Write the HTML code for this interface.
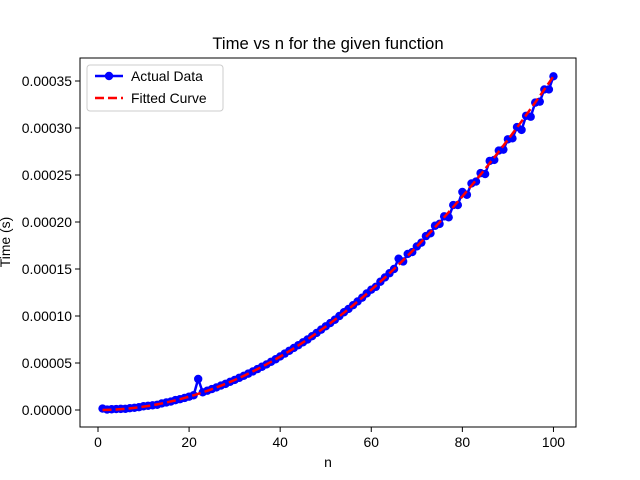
<!DOCTYPE html>
<html><head><meta charset="utf-8"><style>
html,body{margin:0;padding:0;background:#fff;}
svg{display:block;font-family:"Liberation Sans","DejaVu Sans",sans-serif;}
</style></head><body>
<svg id="chart" width="640" height="480" viewBox="0 0 640 480" xmlns="http://www.w3.org/2000/svg">
<rect width="640" height="480" fill="#fff"/>
<text x="328" y="49" text-anchor="middle" font-size="16.7">Time vs n for the given function</text>
<g id="plot"></g>
<rect x="80" y="58" width="496" height="369" fill="none" stroke="#000" stroke-width="1"/>
<g id="xt"></g><g id="yt"></g>
<text x="328" y="467" text-anchor="middle" font-size="13.9">n</text>
<text transform="translate(10,242) rotate(-90)" text-anchor="middle" font-size="13.9">Time (s)</text>
<g>
<rect x="87" y="65" width="136" height="46" rx="3" fill="#fff" fill-opacity="0.8" stroke="#ccc"/>
<line x1="95" y1="76" x2="123" y2="76" stroke="#0000ff" stroke-width="2.5"/>
<circle cx="109" cy="76" r="4.2" fill="#0000ff"/>
<text x="131" y="81" font-size="13.9">Actual Data</text>
<line x1="95" y1="98" x2="123" y2="98" stroke="#ff0000" stroke-width="2.5" stroke-dasharray="9,4"/>
<text x="131" y="103" font-size="13.9">Fitted Curve</text>
</g>
</svg>
<script>
const nValues = Array.from({length:100},(_,i)=>i+1);
const timeMicro = [1.5,0.5,0.8,1,1.2,1.3,1.9,2.3,3,4,4.5,5,5.5,7,8,9,10.5,11.5,12.8,14.2,15.7,33,18.8,20.5,22.3,24,26,27.8,30,32,34.2,36.4,38.7,41,43.5,46,48.5,51.3,54,57,60,63,66,69,72,75,78.5,82,85.5,89,92.5,96,100,104,107.5,111.5,115.5,119.5,124,128,131,136.5,141,145.5,150,161,158,166,168,174,178,185,188,196,198,206,205,218,218,232,229,241,243,252,251,265,266,276,277,288,289,301,298,313,312,327,328,341,341,355];
const fitCoef = [3.55e-8, 0, 0];
const xTicks = [0,20,40,60,80,100];
const yTicks = [0,0.00005,0.0001,0.00015,0.0002,0.00025,0.0003,0.00035];
const yTickLabels = ["0.00000","0.00005","0.00010","0.00015","0.00020","0.00025","0.00030","0.00035"];
const NS="http://www.w3.org/2000/svg";
const X=v=>80+(v+3.95)*496/108.9;
const Y=v=>410-v*940000;
function mk(t,a,p){const e=document.createElementNS(NS,t);for(const k in a)e.setAttribute(k,a[k]);p.appendChild(e);return e;}
const plot=document.getElementById('plot'),xt=document.getElementById('xt'),yt=document.getElementById('yt');
xTicks.forEach(v=>{
  const l=mk('line',{x1:X(v),x2:X(v),y1:427,y2:432,stroke:'#000'},xt);
  
  
  const t=mk('text',{x:X(v),y:447,'text-anchor':'middle','font-size':13.9},xt);t.textContent=v;
  
  
});
yTicks.forEach((v,i)=>{
  const l=mk('line',{x1:75,x2:80,y1:Y(v),y2:Y(v),stroke:'#000'},yt);
  
  
  const t=mk('text',{x:72,y:Y(v)+5,'text-anchor':'end','font-size':13.9},yt);t.textContent=yTickLabels[i];
  
  
});
const pts=nValues.map((n,i)=>X(n)+','+Y(timeMicro[i]*1e-6)).join(' ');
const pl=mk('polyline',{points:pts,fill:'none',stroke:'#0000ff','stroke-width':2.5},plot);


nValues.forEach((n,i)=>{
  const c=mk('circle',{cx:X(n),cy:Y(timeMicro[i]*1e-6),r:4.2,fill:'#0000ff'},plot);
  
  
});
const fpts=nValues.map(n=>X(n)+','+Y(fitCoef[0]*n*n+fitCoef[1]*n+fitCoef[2])).join(' ');
const fl=mk('polyline',{points:fpts,fill:'none',stroke:'#ff0000','stroke-width':2.5,'stroke-dasharray':'9,4'},plot);


</script>
</body></html>
